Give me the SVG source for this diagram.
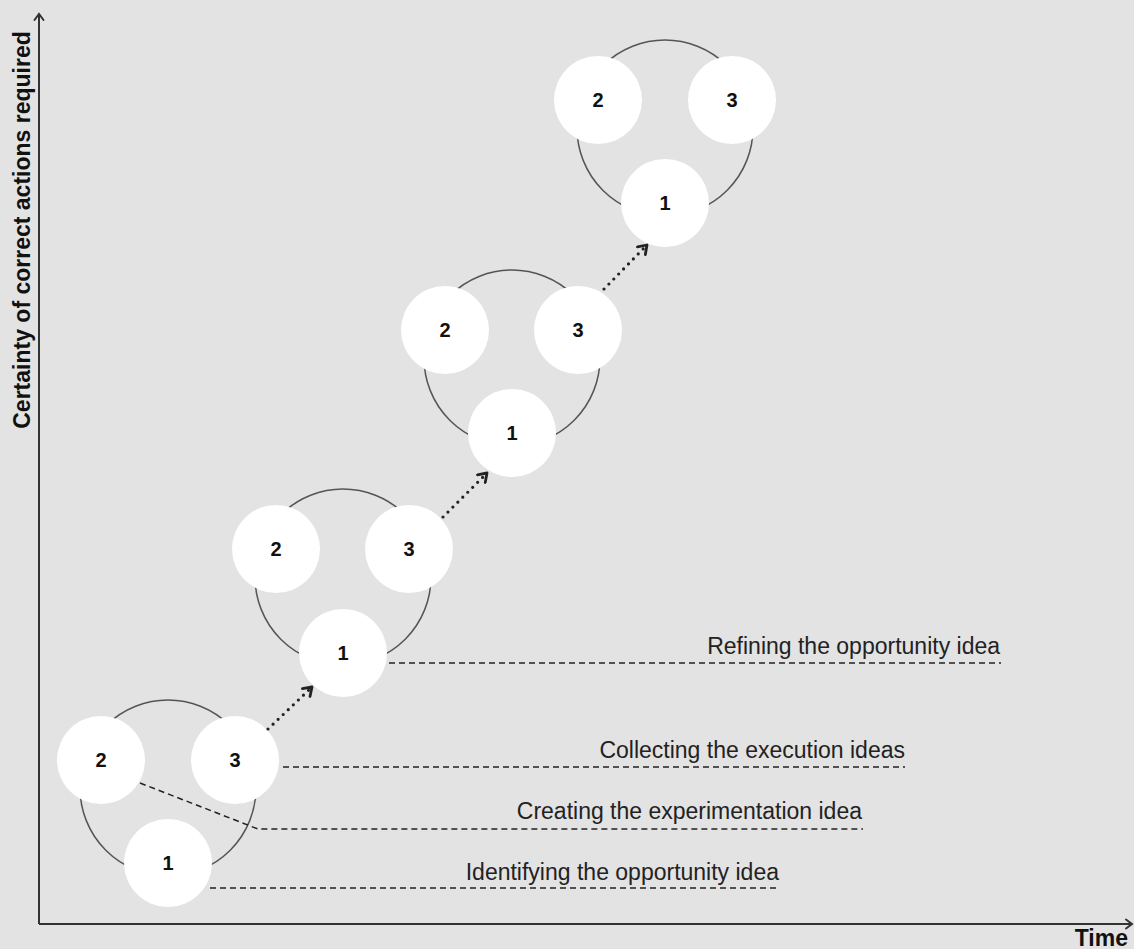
<svg xmlns="http://www.w3.org/2000/svg" width="1134" height="949" viewBox="0 0 1134 949">
  <style>
    .ring { fill: none; stroke: #555; stroke-width: 1.5; }
    .dot { fill: #ffffff; stroke: none; }
    .num { font-family: "Liberation Sans", Arial, sans-serif; font-weight: bold; font-size: 20px; fill: #111; text-anchor: middle; }
    .lbl { font-family: "Liberation Sans", Arial, sans-serif; font-size: 23px; fill: #222; text-anchor: end; }
    .axis-title { font-family: "Liberation Sans", Arial, sans-serif; font-weight: bold; font-size: 23px; fill: #111; }
    .axis { fill: none; stroke: #333; stroke-width: 2; }
    .lead { fill: none; stroke: #222; stroke-width: 1.5; stroke-dasharray: 6 4; }
    .step { fill: none; stroke: #222; stroke-width: 3.2; stroke-dasharray: 0 7; stroke-linecap: round; }
  </style>
  <defs>
    <marker id="axisHead" markerUnits="userSpaceOnUse" markerWidth="12" markerHeight="12" refX="8" refY="6" orient="auto">
      <path d="M2,1.5 L8,6 L2,10.5" fill="none" stroke="#333" stroke-width="2" stroke-linecap="round"/>
    </marker>
    <marker id="stepHead" markerUnits="userSpaceOnUse" markerWidth="14" markerHeight="14" refX="10" refY="7" orient="auto">
      <path d="M2,1.5 L10,7 L2,12.5" fill="none" stroke="#222" stroke-width="2.8" stroke-linecap="round" stroke-linejoin="round"/>
    </marker>
  </defs>

  <rect x="0" y="0" width="1134" height="949" fill="#e3e3e3"/>

  <!-- axes -->
  <g id="axes">
    <path class="axis" d="M39,924 L39,14" marker-end="url(#axisHead)"/>
    <path class="axis" d="M39,924 L1132,924" marker-end="url(#axisHead)"/>
    <text class="axis-title" transform="translate(30,230) rotate(-90)" text-anchor="middle">Certainty of correct actions required</text>
    <text class="axis-title" x="1128" y="946" text-anchor="end">Time</text>
  </g>

  <!-- stage 1 -->
  <g id="stage1">
    <circle class="ring" cx="168" cy="788" r="88"/>
    <g id="stage1-node2"><circle class="dot" cx="101" cy="760" r="44"/><text class="num" x="101" y="767">2</text></g>
    <g id="stage1-node3"><circle class="dot" cx="235" cy="760" r="44"/><text class="num" x="235" y="767">3</text></g>
    <g id="stage1-node1"><circle class="dot" cx="168" cy="863" r="44"/><text class="num" x="168" y="870">1</text></g>
  </g>

  <!-- stage 2 -->
  <g id="stage2">
    <circle class="ring" cx="343" cy="577" r="88"/>
    <g id="stage2-node2"><circle class="dot" cx="276" cy="549" r="44"/><text class="num" x="276" y="556">2</text></g>
    <g id="stage2-node3"><circle class="dot" cx="409" cy="549" r="44"/><text class="num" x="409" y="556">3</text></g>
    <g id="stage2-node1"><circle class="dot" cx="343" cy="653" r="44"/><text class="num" x="343" y="660">1</text></g>
  </g>

  <!-- stage 3 -->
  <g id="stage3">
    <circle class="ring" cx="512" cy="358" r="88"/>
    <g id="stage3-node2"><circle class="dot" cx="445" cy="330" r="44"/><text class="num" x="445" y="337">2</text></g>
    <g id="stage3-node3"><circle class="dot" cx="578" cy="330" r="44"/><text class="num" x="578" y="337">3</text></g>
    <g id="stage3-node1"><circle class="dot" cx="512" cy="433" r="44"/><text class="num" x="512" y="440">1</text></g>
  </g>

  <!-- stage 4 -->
  <g id="stage4">
    <circle class="ring" cx="665" cy="128" r="88"/>
    <g id="stage4-node2"><circle class="dot" cx="598" cy="100" r="44"/><text class="num" x="598" y="107">2</text></g>
    <g id="stage4-node3"><circle class="dot" cx="732" cy="100" r="44"/><text class="num" x="732" y="107">3</text></g>
    <g id="stage4-node1"><circle class="dot" cx="665" cy="203" r="44"/><text class="num" x="665" y="210">1</text></g>
  </g>

  <!-- connectors -->
  <g id="connectors">
    <path class="step" d="M268,729 L312,687" marker-end="url(#stepHead)"/>
    <path class="step" d="M443,517 L487,473" marker-end="url(#stepHead)"/>
    <path class="step" d="M604,289 L647,245" marker-end="url(#stepHead)"/>

    <path class="lead" d="M389,663 L1001,663"/>
    <path class="lead" d="M283,767 L905,767"/>
    <path class="lead" d="M140,783 L258,829 L863,829"/>
    <path class="lead" d="M210,888 L779,888"/>
  </g>

  <!-- leader labels -->
  <g id="labels">
    <text class="lbl" x="1000" y="654">Refining the opportunity idea</text>
    <text class="lbl" x="905" y="758">Collecting the execution ideas</text>
    <text class="lbl" x="862" y="819">Creating the experimentation idea</text>
    <text class="lbl" x="779" y="880">Identifying the opportunity idea</text>
  </g>
</svg>
